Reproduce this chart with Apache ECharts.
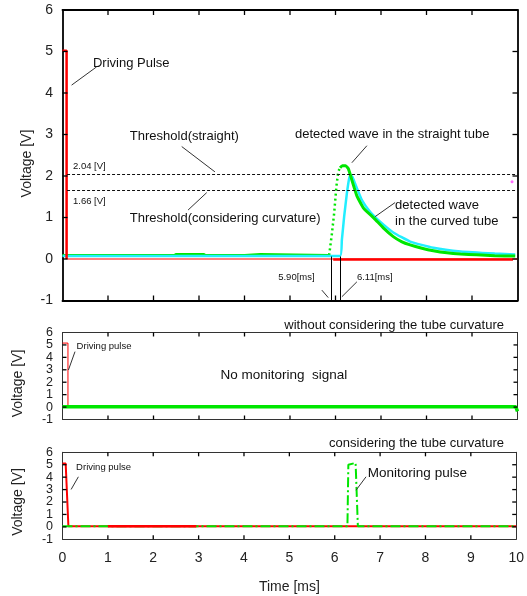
<!DOCTYPE html>
<html>
<head>
<meta charset="utf-8">
<script src="https://cdn.jsdelivr.net/npm/echarts@6/dist/echarts.min.js"></script>
<style>
  html, body { margin: 0; padding: 0; background: #fff; }
  #chart { width: 527px; height: 596px; }
</style>
</head>
<body>
<div id="chart"></div>
<script>
// ---- data: [time ms, voltage V] ----
// top panel
const redPulseTop = [[0, 5.02], [0.09, 5.02], [0.09, 0]];
const redBaseTop = [[0.09, 0], [10, 0]];
const redNoiseTop = [[5.95, -0.01], [9.9, -0.01]];
const straightBase = [[0, 0.09], [2.45, 0.09], [2.5, 0.115], [3.1, 0.115], [3.15, 0.09], [4.0, 0.09], [4.02, 0.115], [4.35, 0.115], [4.37, 0.09], [5.86, 0.09]];
const straightRise = [[5.86, 0.09], [5.92, 0.6], [5.97, 1.1], [6.02, 1.75], [6.06, 2.1], [6.1, 2.2]];
const straightDecay = [[6.1, 2.2], [6.15, 2.25], [6.22, 2.25], [6.28, 2.18], [6.32, 2.05], [6.36, 1.9], [6.47, 1.52], [6.62, 1.22], [6.85, 0.98], [7.05, 0.75], [7.27, 0.54], [7.45, 0.42], [7.64, 0.34], [7.9, 0.26], [8.15, 0.2], [8.45, 0.15], [8.75, 0.12], [9.1, 0.1], [9.5, 0.08], [9.95, 0.07]];
const curvedWave = [[0, 0.075], [6.1, 0.075], [6.14, 0.46], [6.19, 1.02], [6.25, 1.58], [6.3, 1.94], [6.33, 2.02], [6.37, 1.98], [6.43, 1.82], [6.58, 1.42], [6.76, 1.14], [6.98, 0.9], [7.27, 0.64], [7.64, 0.42], [8.15, 0.27], [8.75, 0.18], [9.5, 0.13], [9.95, 0.11]];
const strayDot = [[9.88, 1.86]];
const thresholds = [2.04, 1.66];
const arrivalTimes = [5.90, 6.11];
// middle panel
const redPulseMid = [[0, 5.15], [0.12, 5.15], [0.12, 0.03]];
const greenMid = [[0, 0.03], [9.96, 0.03], [10, -0.35]];
// bottom panel
const redPulseBot = [[0, 5.1], [0.07, 5.1], [0.13, 0.05], [10, 0.05]];
const redSegBot = [[1, 0.05], [2.95, 0.05]];
const greenBot = [[0, 0.05], [6.28, 0.05], [6.3, 5.0], [6.33, 5.15], [6.46, 5.15], [6.49, 5.0], [6.51, 0.05], [10, 0.05]];

const xTicks = [0, 10, 1];
const yTicks = [-1, 6, 1];

const FONT = "'Liberation Sans', Arial, sans-serif";
const RED = "#ff0000", GREEN = "#00e600", CYAN = "#22eeff";

const chart = echarts.init(document.getElementById("chart"));

const grids = [
  { left: 62.5, top: 10, width: 455, height: 290.5 },
  { left: 62.5, top: 332.5, width: 455, height: 87 },
  { left: 62.5, top: 452.3, width: 455, height: 87 },
];
const lw = [1.8, 1, 1];
const tickLen = [5, 4, 4];

const axisLineOf = (i) => ({ show: true, onZero: false, lineStyle: { color: i ? "#333" : "#000", width: lw[i] } });
const noTick = { show: false };

const xAxes = [];
const yAxes = [];
grids.forEach((g, i) => {
  xAxes.push({
    type: "value", gridIndex: i, min: xTicks[0], max: xTicks[1], interval: xTicks[2],
    axisLine: axisLineOf(i), axisTick: noTick, splitLine: { show: false },
    axisLabel: { show: i === 2, fontSize: 14, color: "#222", fontFamily: FONT, margin: 12 },
    name: i === 2 ? "Time [ms]" : "", nameLocation: "middle", nameGap: 41,
    nameTextStyle: { fontSize: 14, color: "#222", fontFamily: FONT },
  });
  xAxes.push({
    type: "value", gridIndex: i, position: "top", min: xTicks[0], max: xTicks[1], interval: xTicks[2],
    axisLine: axisLineOf(i), axisTick: noTick, splitLine: { show: false }, axisLabel: { show: false },
  });
  // lower panels are crowded: 0..5 on the main axis, -1 and 6 on a label-only twin
  yAxes.push({
    type: "value", gridIndex: i, min: yTicks[0], max: yTicks[1], interval: yTicks[2],
    axisLine: axisLineOf(i), axisTick: noTick, splitLine: { show: false },
    axisLabel: {
      fontSize: i ? 12.5 : 14, color: "#222", fontFamily: FONT, margin: 9.5,
      showMinLabel: i ? false : true, showMaxLabel: i ? false : true,
    },
  });
  yAxes.push({
    type: "value", gridIndex: i, position: "right", min: yTicks[0], max: yTicks[1], interval: yTicks[2],
    axisLine: axisLineOf(i), axisTick: noTick, splitLine: { show: false }, axisLabel: { show: false },
  });
  if (i) {
    yAxes.push({
      type: "value", gridIndex: i, position: "left", min: yTicks[0], max: yTicks[1], interval: yTicks[1] - yTicks[0],
      axisLine: { show: false, onZero: false }, axisTick: noTick, splitLine: { show: false },
      axisLabel: { fontSize: 12.5, color: "#222", fontFamily: FONT, margin: 9.5 },
    });
  }
});

function ln(grid, data, color, width, type, extra) {
  return Object.assign({
    type: "line", xAxisIndex: grid * 2, yAxisIndex: grid === 0 ? 0 : grid === 1 ? 2 : 5, data: data,
    showSymbol: false, symbol: "none", animation: false, silent: true,
    lineStyle: { color: color, width: width, type: type || "solid" },
  }, extra || {});
}

const arrowStyle = { color: "#333", width: 1, type: "solid" };
function arrows(list) {
  return {
    silent: true, animation: false, symbol: ["none", "arrow"], symbolSize: [0, 7],
    label: { show: false }, lineStyle: arrowStyle,
    data: list.map((a) => [{ coord: [a[0], a[1]] }, { coord: [a[2], a[3]] }]),
  };
}

const series = [
  // top panel
  ln(0, redBaseTop, RED, 1.2),
  ln(0, redNoiseTop, RED, 2.5),
  ln(0, straightBase, GREEN, 2.5),
  ln(0, straightRise, GREEN, 2.5, [2, 3]),
  ln(0, curvedWave, CYAN, 2.5, "solid", {
    smooth: 0.15,
    markLine: {
      silent: true, animation: false, symbol: "none", label: { show: false },
      lineStyle: { color: "#111", width: 1, type: [3, 2] },
      data: thresholds.map((v) => [{ coord: [0.1, v] }, { coord: [10, v] }]),
    },
  }),
  ln(0, straightDecay, GREEN, 3, "solid", {
    smooth: 0.15,
    markLine: {
      silent: true, animation: false, symbol: "none", label: { show: false },
      lineStyle: { color: "#000", width: 1, type: "solid" },
      data: arrivalTimes.map((t) => [{ coord: [t, 0.06] }, { coord: [t, -1] }]),
    },
  }),
  ln(0, redPulseTop, RED, 2.5, "solid", {
    markLine: arrows([
      [0.75, 4.63, 0.2, 4.19],
      [2.62, 2.71, 3.35, 2.1],
      [2.76, 1.18, 3.17, 1.6],
      [6.69, 2.73, 6.36, 2.32],
      [7.31, 1.36, 6.87, 1.02],
      [5.7, -0.75, 5.84, -0.93],
      [6.47, -0.55, 6.14, -0.91],
    ]),
  }),
  { type: "scatter", xAxisIndex: 0, yAxisIndex: 0, data: strayDot, symbolSize: 3, itemStyle: { color: "#ff44ff" }, silent: true, animation: false },
  // middle panel
  ln(1, redPulseMid, RED, 1, "solid", { markLine: arrows([[0.275, 4.46, 0.13, 2.98]]) }),
  ln(1, greenMid, GREEN, 3.5),
  // bottom panel
  ln(2, redPulseBot, RED, 2),
  ln(2, greenBot, GREEN, 2, [10, 3, 2, 3]),
  ln(2, redSegBot, RED, 2.5, "solid", { markLine: arrows([[0.35, 4.03, 0.19, 3.01], [6.69, 4.03, 6.47, 2.95]]) }),
];

const titleStyle = { fontSize: 13, fontWeight: "normal", color: "#111", fontFamily: FONT };
const option = {
  animation: false,
  grid: grids,
  xAxis: xAxes,
  yAxis: yAxes,
  title: [
    { text: "without considering the tube curvature", right: 23, top: 318.5, padding: 0, textStyle: titleStyle },
    { text: "considering the tube curvature", right: 23, top: 437, padding: 0, textStyle: titleStyle },
  ],
  series: series,
};
chart.setOption(option);

// annotation texts anchored in data coordinates: [grid, time, volt, text, size]
const notes = [
  [0, 0.67, 4.72, "Driving Pulse", 13],
  [0, 1.48, 2.96, "Threshold(straight)", 13],
  [0, 1.48, 0.98, "Threshold(considering curvature)", 13],
  [0, 5.11, 2.99, "detected wave in the straight tube", 13],
  [0, 7.31, 1.28, "detected wave", 13],
  [0, 7.31, 0.9, "in the curved tube", 13],
  [0, 0.23, 2.22, "2.04 [V]", 9.5],
  [0, 0.23, 1.38, "1.66 [V]", 9.5],
  [0, 4.74, -0.45, "5.90[ms]", 9.5],
  [0, 6.47, -0.45, "6.11[ms]", 9.5],
  [1, 0.31, 4.92, "Driving pulse", 9.5],
  [1, 3.47, 2.58, "No monitoring  signal", 13.5],
  [2, 0.3, 4.75, "Driving pulse", 9.5],
  [2, 6.73, 4.3, "Monitoring pulse", 13.5],
];
// rotated y-axis names: [grid, voltage at text centre, x centre]
const yNames = [[0, 2.3, 27], [1, 1.9, 18.3], [2, 2.0, 18.3]];
const graphics = notes.map((n) => {
  const p = chart.convertToPixel({ gridIndex: n[0] }, [n[1], n[2]]);
  return {
    type: "text", x: p[0], y: p[1], silent: true,
    style: { text: n[3], fontSize: n[4], fontFamily: FONT, fill: "#111", verticalAlign: "middle" },
  };
});
yNames.forEach((n) => {
  const p = chart.convertToPixel({ gridIndex: n[0] }, [0, n[1]]);
  graphics.push({
    type: "text", x: n[2], y: p[1], rotation: Math.PI / 2, silent: true,
    style: { text: "Voltage [V]", fontSize: 14, fontFamily: FONT, fill: "#222", align: "center", verticalAlign: "middle" },
  });
});

// inward tick marks on all four sides, placed through the axes' own scale
function tick(x1, y1, x2, y2) {
  return { type: "line", silent: true, z: 100, shape: { x1: x1, y1: y1, x2: x2, y2: y2 }, style: { stroke: "#000", lineWidth: 1.3 } };
}
grids.forEach((g, i) => {
  const len = tickLen[i];
  const lo = chart.convertToPixel({ gridIndex: i }, [xTicks[0], yTicks[0]]);
  const hi = chart.convertToPixel({ gridIndex: i }, [xTicks[1], yTicks[1]]);
  for (let t = xTicks[0] + xTicks[2]; t < xTicks[1]; t += xTicks[2]) {
    const px = chart.convertToPixel({ gridIndex: i }, [t, 0])[0];
    graphics.push(tick(px, lo[1], px, lo[1] - len), tick(px, hi[1], px, hi[1] + len));
  }
  for (let v = yTicks[0] + yTicks[2]; v < yTicks[1]; v += yTicks[2]) {
    const py = chart.convertToPixel({ gridIndex: i }, [0, v])[1];
    graphics.push(tick(lo[0], py, lo[0] + len, py), tick(hi[0], py, hi[0] - len, py));
  }
});
chart.setOption({ graphic: { elements: graphics } });
</script>
</body>
</html>
